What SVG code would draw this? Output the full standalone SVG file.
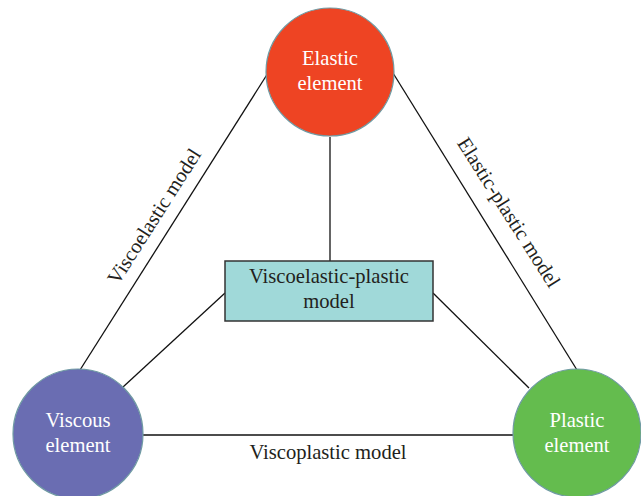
<svg xmlns="http://www.w3.org/2000/svg" width="641" height="496" viewBox="0 0 641 496">
<style>
.lbl{font-family:"Liberation Serif","Times New Roman",serif;font-size:20.6px;text-anchor:middle;fill:#231f20}
.wt{font-family:"Liberation Serif","Times New Roman",serif;font-size:20.6px;text-anchor:middle;fill:#ffffff}
.node{stroke:#6f9aa3;stroke-width:1.2}
.edge{stroke:#111;stroke-width:1.3;fill:none}
</style>
<rect width="641" height="496" fill="#ffffff"/>
<g id="connectors">
<line class="edge" x1="330" y1="137" x2="330" y2="261"/>
<line class="edge" x1="80" y1="370" x2="268" y2="73"/>
<line class="edge" x1="393" y1="73" x2="577" y2="370"/>
<line class="edge" x1="225" y1="293" x2="123" y2="387"/>
<line class="edge" x1="433" y1="293" x2="529" y2="388"/>
<line class="edge" x1="143" y1="435" x2="513" y2="435"/>
<text class="lbl" transform="translate(160,220) rotate(-57.5)">Viscoelastic model</text>
<text class="lbl" transform="translate(503,216) rotate(57.5)">Elastic-plastic model</text>
<text class="lbl" x="328" y="459">Viscoplastic model</text>
</g>
<g id="elastic">
<circle class="node" cx="330" cy="72" r="64" fill="#ee4423"/>
<text class="wt" x="330" y="65">Elastic</text>
<text class="wt" x="330" y="90">element</text>
</g>
<g id="viscous">
<circle class="node" cx="78" cy="434" r="65" fill="#6a6db2"/>
<text class="wt" x="78" y="427">Viscous</text>
<text class="wt" x="78" y="452">element</text>
</g>
<g id="plastic">
<circle class="node" cx="577" cy="433" r="64" fill="#64bc4e"/>
<text class="wt" x="577" y="427">Plastic</text>
<text class="wt" x="577" y="452">element</text>
</g>
<g id="center">
<rect x="225" y="261" width="208" height="60" fill="#a0d9d9" stroke="#333" stroke-width="1.5"/>
<text class="lbl" x="329" y="283">Viscoelastic-plastic</text>
<text class="lbl" x="329" y="308">model</text>
</g>
</svg>
